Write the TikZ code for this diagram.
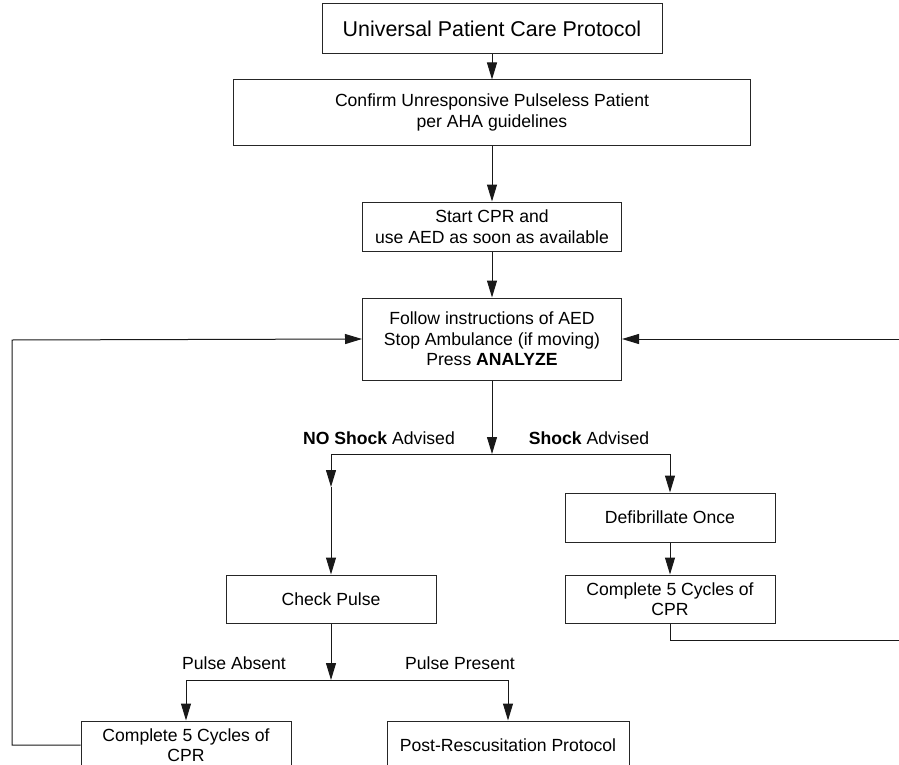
\documentclass[tikz,border=0pt]{standalone}
\usepackage{fontspec}
\setmainfont{Liberation Sans}
\usetikzlibrary{arrows.meta}

\begin{document}
\begin{tikzpicture}[x=1pt,y=-1pt,
    box/.style={draw=black!85,line width=1pt,align=center,inner sep=0pt,
      minimum width=210pt,minimum height=48pt,font=\fontsize{17.6}{20.5}\selectfont},
    lbl/.style={inner sep=0pt,font=\fontsize{17.6}{20.5}\selectfont},
    link/.style={draw=black!90,line width=1pt},
    flow/.style={link,-{Triangle[length=17pt,width=10pt]}}]
      \useasboundingbox (0,0) rectangle (899,765);
      \clip (0,0) rectangle (899,765);
      \node [box,minimum width=340pt,minimum height=50pt,font=\fontsize{21.4}{24}\selectfont] (ucp) at (492,29) {Universal Patient Care Protocol};
      \node [box,minimum width=517pt,minimum height=65pt] (confirm) at (492,112.5) {Confirm Unresponsive Pulseless Patient\\per AHA guidelines};
      \node [box,minimum width=259pt,minimum height=49pt] (startcpr) at (492,226.5) {Start CPR and\\use AED as soon as available};
      \node [box,minimum width=259pt,minimum height=82pt] (follow) at (492,339) {Follow instructions of AED\\Stop Ambulance (if moving)\\Press \textbf{ANALYZE}};
      % shock split
      \coordinate (split) at (492,454);
      \coordinate (nomid) at (331,487);
      \node [lbl] (noshock) at (379,438) {\textbf{NO Shock} Advised};
      \node [lbl] (shock) at (589,438) {\textbf{Shock} Advised};
      % right side
      \node [box,minimum height=49pt] (defib) at (670,517.5) {Defibrillate Once};
      \node [box] (cprright) at (670,599) {Complete 5 Cycles of\\CPR};
      % left side
      \node [box] (check) at (331,599) {Check Pulse};
      \coordinate (psplit) at (331,680);
      \node [lbl] (absent) at (234,663) {Pulse Absent};
      \node [lbl] (present) at (460,663) {Pulse Present};
      % bottom row
      \node [box] (cprleft) at (186,745) {Complete 5 Cycles of\\CPR};
      \node [box,minimum width=242pt] (post) at (508,745) {Post-Rescusitation Protocol};

      % links
      \draw [flow] (ucp) -- (confirm);
      \draw [flow] (confirm) -- (startcpr);
      \draw [flow] (startcpr) -- (follow);
      \draw [flow] (follow) -- (split);
      \draw [flow] (split) -| (nomid);
      \draw [flow] (nomid) -- (check);
      \draw [flow] (split) -| (defib);
      \draw [flow] (defib) -- (cprright);
      \draw [flow] (check) -- (psplit);
      \draw [flow] (psplit) -| (cprleft);
      \draw [flow] (psplit) -| (post);
      % loops back
      \draw [flow] (cprleft.west) -| (12,340) -- (follow.west);
      \draw [flow] (cprright.south) |- (910,640) |- (follow.east);
    \end{tikzpicture}
\end{document}
